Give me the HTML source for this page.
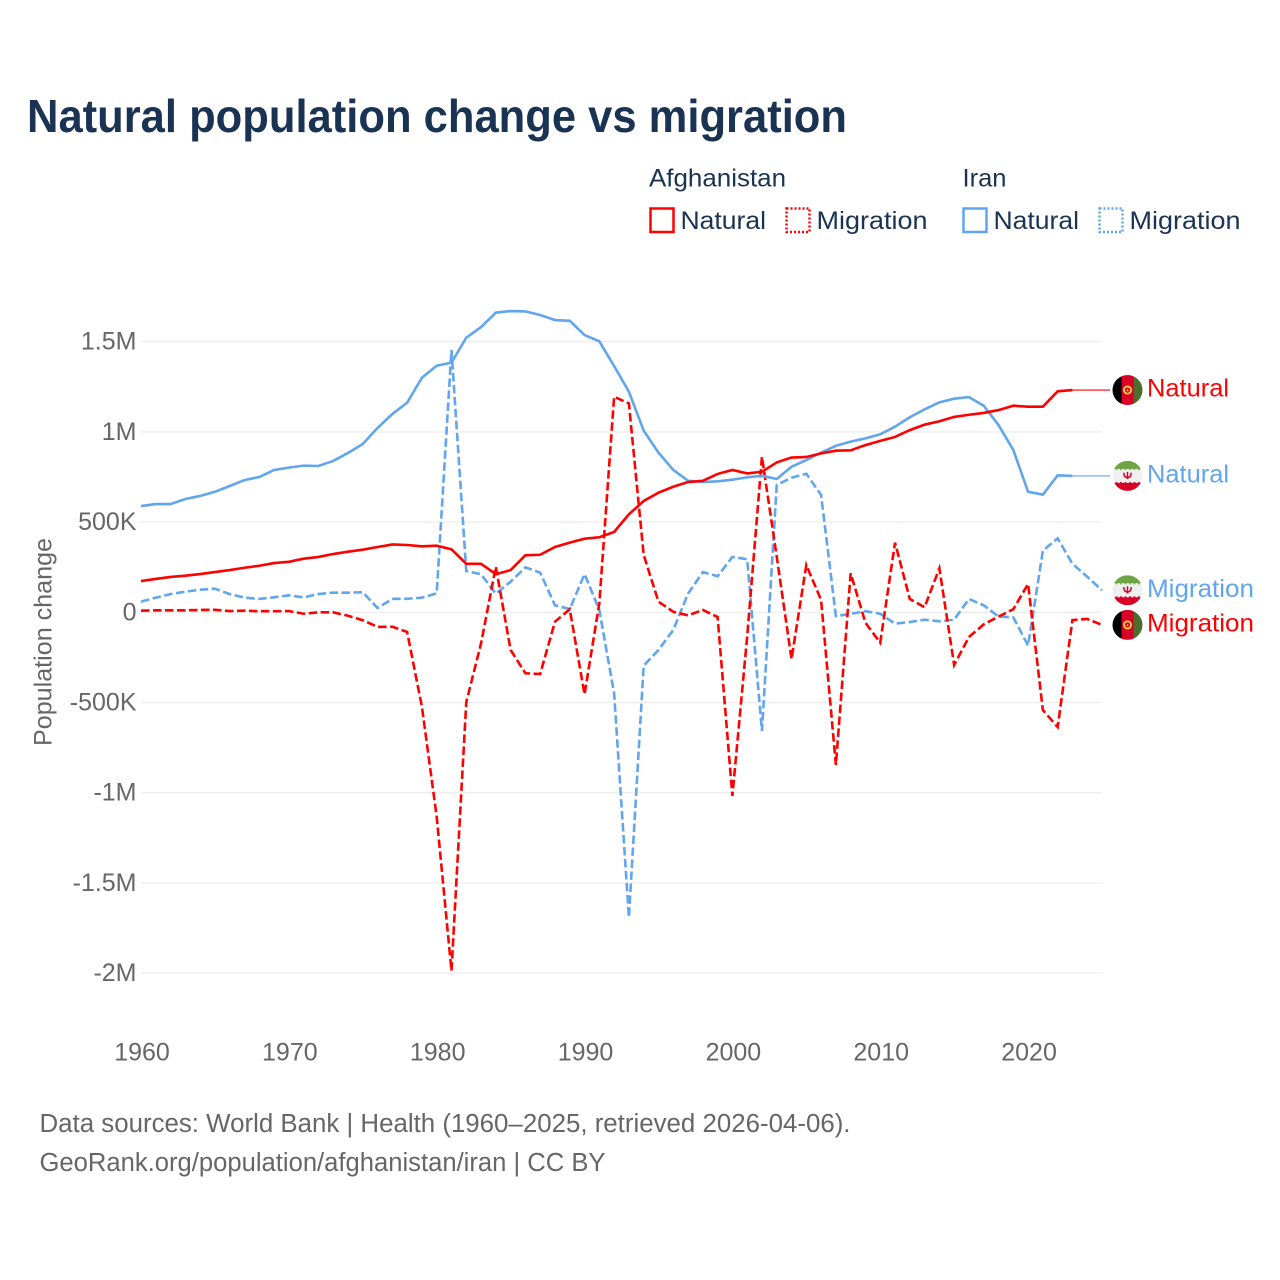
<!DOCTYPE html>
<html lang="en">
<head>
<meta charset="utf-8">
<title>Natural population change vs migration</title>
<style>
  html, body { margin: 0; padding: 0; background: #fff; }
  svg { display: block; font-family: "Liberation Sans", sans-serif; }
</style>
</head>
<body>
<svg id="chart" xmlns="http://www.w3.org/2000/svg" width="1280" height="1280" viewBox="0 0 1280 1280">
  <defs>
    <clipPath id="flag-clip"><circle cx="0" cy="0" r="15"></circle></clipPath>
    <g id="flag-af" clip-path="url(#flag-clip)">
      <rect x="-15" y="-15" width="9" height="30" fill="#000000"></rect>
      <rect x="-6" y="-15" width="12" height="30" fill="#d80027"></rect>
      <rect x="6" y="-15" width="9" height="30" fill="#496e2d"></rect>
      <circle cx="0" cy="0" r="3.6" fill="none" stroke="#ffda44" stroke-width="1.8"></circle>
      <circle cx="0" cy="0.3" r="1" fill="#ffda44"></circle>
    </g>
    <g id="flag-ir" clip-path="url(#flag-clip)">
      <rect x="-15" y="-15" width="30" height="8" fill="#6da544"></rect>
      <rect x="-15" y="-7" width="30" height="14" fill="#f0f0f0"></rect>
      <rect x="-15" y="7" width="30" height="8" fill="#d80027"></rect>
      <path d="M-12 -7.5v1.6h2v-1.6M-7.5 -7.5v1.6h2v-1.6M-3 -7.5v1.6h2v-1.6M1.5 -7.5v1.6h2v-1.6M6 -7.5v1.6h2v-1.6M10.5 -7.5v1.6h2v-1.6" fill="#6da544" opacity="0.8"></path>
      <path d="M-12 7.5v-1.6h2v1.6M-7.5 7.5v-1.6h2v1.6M-3 7.5v-1.6h2v1.6M1.5 7.5v-1.6h2v1.6M6 7.5v-1.6h2v1.6M10.5 7.5v-1.6h2v1.6" fill="#d80027" opacity="0.8"></path>
      <path d="M-3.6 -3.2c-0.2 3.4 1.2 4.8 3.6 4.8s3.8 -1.4 3.6 -4.8M0 -4v7.2" fill="none" stroke="#d80027" stroke-width="1.5"></path>
    </g>
  </defs>

  <rect x="0" y="0" width="1280" height="1280" fill="#ffffff"></rect>

  <text x="27" y="132" font-size="46" font-weight="700" fill="#1a3353" textLength="820" lengthAdjust="spacingAndGlyphs">Natural population change vs migration</text>

  <g font-size="25" fill="#1a3353">
    <text x="649" y="186.5" textLength="137" lengthAdjust="spacingAndGlyphs">Afghanistan</text>
    <text x="962.5" y="186.5" textLength="44" lengthAdjust="spacingAndGlyphs">Iran</text>

    <g>
      <rect x="650.5" y="208.5" width="23" height="23.5" fill="none" stroke="#ff0000" stroke-width="2.5"></rect>
      <text x="680.5" y="229" textLength="85.5" lengthAdjust="spacingAndGlyphs">Natural</text>
    </g>
    <g>
      <rect x="786.5" y="208.5" width="23" height="23.5" fill="none" stroke="#ff0000" stroke-width="2.5" stroke-dasharray="2 2"></rect>
      <text x="816.5" y="229" textLength="111" lengthAdjust="spacingAndGlyphs">Migration</text>
    </g>
    <g>
      <rect x="963.5" y="208.5" width="23" height="23.5" fill="none" stroke="#60a5ee" stroke-width="2.5"></rect>
      <text x="993.5" y="229" textLength="85.5" lengthAdjust="spacingAndGlyphs">Natural</text>
    </g>
    <g>
      <rect x="1099.5" y="208.5" width="23" height="23.5" fill="none" stroke="#60a5ee" stroke-width="2.5" stroke-dasharray="2 2"></rect>
      <text x="1129.5" y="229" textLength="111" lengthAdjust="spacingAndGlyphs">Migration</text>
    </g>
  </g>

  <g id="grid"></g>
  <g id="y-ticks" font-size="25" fill="#666666" text-anchor="end"></g>
  <g id="x-ticks" font-size="25" fill="#666666" text-anchor="middle"></g>

  <text transform="translate(51.5,642) rotate(-90)" text-anchor="middle" font-size="25" fill="#666666" textLength="208" lengthAdjust="spacingAndGlyphs">Population change</text>

  <g id="series" fill="none" stroke-width="2.6" stroke-linejoin="miter"></g>
  <g id="end-labels" font-size="25"></g>

  <g font-size="25.5" fill="#666666">
    <text x="39.5" y="1132" textLength="811" lengthAdjust="spacingAndGlyphs">Data sources: World Bank | Health (1960–2025, retrieved 2026-04-06).</text>
    <text x="39.5" y="1171" textLength="566" lengthAdjust="spacingAndGlyphs">GeoRank.org/population/afghanistan/iran | CC BY</text>
  </g>
</svg>

<script>
var startYear = 1960;
var endYear = 2025;
var xTickYears = [1960, 1970, 1980, 1990, 2000, 2010, 2020];
var yTickValues = [1500000, 1000000, 500000, 0, -500000, -1000000, -1500000, -2000000];
var yTickLabels = ["1.5M", "1M", "500K", "0", "-500K", "-1M", "-1.5M", "-2M"];

// All series in thousands of people, first value is 1960
var afghanistanNatural = [173, 185, 196, 203, 212, 223, 234, 247, 258, 273, 280, 297, 307, 323, 336, 347, 362, 376, 373, 366, 369, 349, 269, 269, 211, 234, 316, 319, 362, 386, 408, 416, 445, 543, 617, 663, 696, 722, 729, 767, 789, 770, 779, 831, 858, 861, 881, 896, 898, 927, 950, 972, 1010, 1040, 1059, 1083, 1095, 1105, 1121, 1145, 1140, 1140, 1225, 1232];
var iranNatural = [589, 600, 600, 628, 645, 668, 700, 733, 750, 789, 802, 813, 811, 839, 883, 933, 1022, 1099, 1162, 1300, 1367, 1384, 1522, 1581, 1661, 1670, 1668, 1648, 1620, 1616, 1537, 1502, 1365, 1223, 1007, 885, 789, 729, 722, 726, 735, 748, 757, 739, 807, 844, 885, 923, 946, 964, 987, 1029, 1081, 1125, 1164, 1184, 1193, 1145, 1038, 900, 668, 652, 759, 756];
var afghanistanMigration = [9, 11, 11, 11, 13, 14, 7, 9, 6, 6, 7, -8, 0, 0, -19, -44, -81, -80, -109, -523, -1133, -1987, -499, -172, 253, -209, -338, -342, -52, 17, -455, 50, 1195, 1158, 318, 59, 3, -17, 13, -26, -1018, -135, 862, 308, -259, 262, 68, -846, 216, -58, -169, 386, 74, 28, 244, -292, -137, -67, -24, 17, 157, -542, -636, -43, -37, -70];
var iranMigration = [59, 81, 101, 114, 125, 131, 101, 81, 74, 83, 94, 83, 101, 109, 109, 111, 24, 74, 75, 81, 105, 1454, 229, 211, 103, 170, 249, 220, 39, 18, 212, 13, -449, -1691, -296, -209, -98, 103, 223, 200, 307, 294, -658, 706, 746, 768, 650, -21, -9, 6, -8, -63, -54, -41, -50, -41, 74, 39, -24, -28, -185, 341, 410, 269, 197, 122];

var NS = "http://www.w3.org/2000/svg";
var RED = "#ff0000";
var BLUE = "#60a5ee";
var plotLeft = 141;
var plotRight = 1102;
var zeroY = 612.3;
var pxPerMillion = 180.4;

function xScale(year) {
  return plotLeft + (year - startYear) * (plotRight - plotLeft) / (endYear - startYear);
}
function yScale(value) {
  return zeroY - value / 1000000 * pxPerMillion;
}
function make(tag, parent) {
  var el = document.createElementNS(NS, tag);
  parent.appendChild(el);
  return el;
}

var grid = document.getElementById("grid");
var yTicks = document.getElementById("y-ticks");
yTickValues.forEach(function (v, i) {
  var line = make("line", grid);
  
  
  line.setAttribute("x1", plotLeft);
  line.setAttribute("x2", plotRight);
  line.setAttribute("y1", yScale(v));
  line.setAttribute("y2", yScale(v));
  line.setAttribute("stroke", "#eeeeee");
  line.setAttribute("stroke-width", "1.4");
  var label = make("text", yTicks);
  
  
  label.setAttribute("x", 136.5);
  label.setAttribute("y", yScale(v) + 8);
  label.textContent = yTickLabels[i];
});

var xTicks = document.getElementById("x-ticks");
xTickYears.forEach(function (year) {
  var label = make("text", xTicks);
  
  
  label.setAttribute("x", xScale(year) + 1);
  label.setAttribute("y", 1060.5);
  label.textContent = String(year);
});

var seriesGroup = document.getElementById("series");
function drawSeries(values, color, dashed, name) {
  var d = values.map(function (v, i) {
    return (i ? "L" : "M") + xScale(startYear + i).toFixed(2) + " " + yScale(v * 1000).toFixed(2);
  }).join("");
  var path = make("path", seriesGroup);
  
  
  path.setAttribute("d", d);
  path.setAttribute("stroke", color);
  if (dashed) {
    path.setAttribute("stroke-dasharray", "8.5 3.5");
  }
}
drawSeries(iranMigration, BLUE, true, "line-iran-migration");
drawSeries(afghanistanMigration, RED, true, "line-afghanistan-migration");
drawSeries(iranNatural, BLUE, false, "line-iran-natural");
drawSeries(afghanistanNatural, RED, false, "line-afghanistan-natural");

var endLabels = document.getElementById("end-labels");
function drawEndLabel(values, color, flagId, text, textWidth, connector, name) {
  var last = values[values.length - 1];
  var lastYear = startYear + values.length - 1;
  var py = yScale(last * 1000);
  if (connector) {
    var conn = make("line", endLabels);
    
    
    conn.setAttribute("x1", xScale(lastYear));
    conn.setAttribute("x2", 1110);
    conn.setAttribute("y1", py);
    conn.setAttribute("y2", py);
    conn.setAttribute("stroke", color);
    conn.setAttribute("stroke-width", "1.1");
  }
  var flag = make("use", endLabels);
  
  
  flag.setAttribute("href", "#" + flagId);
  flag.setAttribute("x", 1127.5);
  flag.setAttribute("y", py);
  var label = make("text", endLabels);
  
  
  label.setAttribute("x", 1147);
  label.setAttribute("y", py + 6.7);
  label.setAttribute("fill", color);
  label.setAttribute("textLength", textWidth);
  label.setAttribute("lengthAdjust", "spacingAndGlyphs");
  label.textContent = text;
}
drawEndLabel(afghanistanNatural, RED, "flag-af", "Natural", 82, true, "end-afghanistan-natural");
drawEndLabel(iranNatural, BLUE, "flag-ir", "Natural", 82, true, "end-iran-natural");
drawEndLabel(iranMigration, BLUE, "flag-ir", "Migration", 107, false, "end-iran-migration");
drawEndLabel(afghanistanMigration, RED, "flag-af", "Migration", 107, false, "end-afghanistan-migration");
</script>
</body>
</html>
